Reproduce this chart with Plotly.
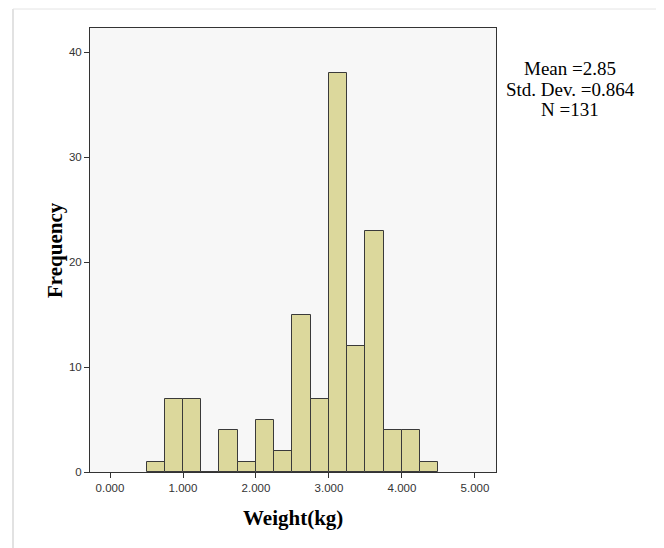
import plotly.graph_objects as go

bin_left = [0.50, 0.75, 1.00, 1.25, 1.50, 1.75, 2.00, 2.25, 2.50, 2.75, 3.00, 3.25, 3.50, 3.75, 4.00, 4.25]
counts = [1, 7, 7, 0, 4, 1, 5, 2, 15, 7, 38, 12, 23, 4, 4, 1]
bin_width = 0.25
x_ticks = [0, 1, 2, 3, 4, 5]
y_ticks = [0, 10, 20, 30, 40]
stats_lines = ["Mean =2.85", "Std. Dev. =0.864", "N =131"]

OFF = 8  # browser body margin
W, H = 664 - OFF, 548 - OFF
# plot area in reference page pixels: x 90..496, y 28..472
L, T = 90 - OFF, 28 - OFF
R = W - (496 - OFF)
B = H - (472 - OFF)
pw, ph = W - L - R, H - T - B

def px(xp):
    return (xp - OFF - L) / pw

def py(yp):
    return (H - B - (yp - OFF)) / ph

fig = go.Figure()
fig.add_trace(go.Bar(
    x=[b + bin_width / 2 for b in bin_left],
    y=counts,
    width=bin_width,
    marker=dict(color="rgb(220,216,156)", line=dict(color="#3a3a3a", width=1)),
    showlegend=False,
))

fig.update_layout(
    width=W, height=H,
    margin=dict(l=L, r=R, t=T, b=B, pad=0),
    paper_bgcolor="white",
    plot_bgcolor="#f7f7f7",
    bargap=0,
    xaxis=dict(
        range=[-0.274, 5.288], tickvals=x_ticks, tickformat=".3f",
        ticks="outside", ticklen=5, tickcolor="#333", tickwidth=1,
        showline=True, mirror=True, linecolor="#333", linewidth=1,
        showgrid=False, zeroline=False,
        tickfont=dict(family="Liberation Sans, Arial", size=11.5, color="#333"),
    ),
    yaxis=dict(
        range=[0, 42.3], tickvals=y_ticks,
        ticks="outside", ticklen=5, tickcolor="#333", tickwidth=1,
        showline=True, mirror=True, linecolor="#333", linewidth=1,
        showgrid=False, zeroline=False,
        tickfont=dict(family="Liberation Sans, Arial", size=11.5, color="#333"),
    ),
)

serif = "Liberation Serif, Times New Roman"
fig.add_annotation(x=px(293), y=py(518), xref="paper", yref="paper",
                   text="<b>Weight(kg)</b>", showarrow=False,
                   xanchor="center", yanchor="middle",
                   font=dict(family=serif, size=21, color="black"))
fig.add_annotation(x=px(55), y=py(250), xref="paper", yref="paper",
                   text="<b>Frequency</b>", showarrow=False, textangle=-90,
                   xanchor="center", yanchor="middle",
                   font=dict(family=serif, size=21, color="black"))

line_y = [69, 89, 109]
for txt, yy in zip(stats_lines, line_y):
    fig.add_annotation(
        x=px(570), y=py(yy), xref="paper", yref="paper",
        text=txt, showarrow=False, xanchor="center", yanchor="middle",
        font=dict(family=serif, size=19, color="black"),
    )

# outer frame
fig.add_shape(type="line", xref="paper", yref="paper",
              x0=px(13), x1=px(13), y0=py(9), y1=py(560),
              line=dict(color="#d8d8d8", width=1.5))
fig.add_shape(type="line", xref="paper", yref="paper",
              x0=px(13), x1=px(659), y0=py(9), y1=py(9),
              line=dict(color="#e4e4e4", width=1))
fig.add_shape(type="line", xref="paper", yref="paper",
              x0=px(659), x1=px(659), y0=py(9), y1=py(560),
              line=dict(color="#b8b8b8", width=2))

fig.write_html("out.html")
